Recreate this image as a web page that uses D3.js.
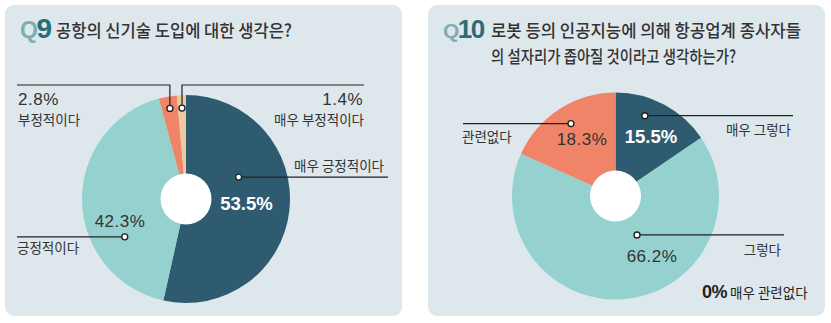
<!DOCTYPE html>
<html>
<head>
<meta charset="utf-8">
<script src="https://cdn.jsdelivr.net/npm/d3@7"></script>
<style>
  html, body { margin: 0; padding: 0; background: #ffffff; }
  svg { display: block; }
</style>
</head>
<body>
<svg id="chart" width="831" height="323"></svg>
<script>
// Survey answers, Q9
const q9Categories = ["매우 긍정적이다", "긍정적이다", "부정적이다", "매우 부정적이다"];
const q9Values = [53.5, 42.3, 2.8, 1.4];

// Survey answers, Q10
const q10Categories = ["매우 그렇다", "그렇다", "관련없다", "매우 관련없다"];
const q10Values = [15.5, 66.2, 18.3, 0];

const q9Title = "공항의 신기술 도입에 대한 생각은?";
const q10TitleLines = ["로봇 등의 인공지능에 의해 항공업계 종사자들", "의 설자리가 좁아질 것이라고 생각하는가?"];

const colorScale = d3.scaleOrdinal()
  .domain([0, 1, 2, 3])
  .range(["#2f5b70", "#95d1cf", "#ef8468", "#e9cc9e"]);

const KR = "'Noto Sans CJK KR', 'Noto Sans', sans-serif";
const NUM = "'Liberation Sans', Arial, sans-serif";
const TEXT = "#333333";

const svg = d3.select("#chart");

// panels
const panels = [
  { x: 5, y: 5, w: 397, h: 311 },
  { x: 428, y: 5, w: 397, h: 311 }
];
svg.selectAll("rect.panel").data(panels).join("rect")
  .attr("class", "panel")
  .attr("x", d => d.x).attr("y", d => d.y)
  .attr("width", d => d.w).attr("height", d => d.h)
  .attr("rx", 9).attr("fill", "#dee7eb");

// question marks "Q9", "Q10": a light "Q" followed by the dark number
function qMark(x, y, num, size) {
  const t = svg.append("text")
    .attr("x", x).attr("y", y)
    .attr("font-family", "'Liberation Sans', Arial, sans-serif")
    .attr("font-weight", 700)
    .attr("font-size", size).attr("letter-spacing", -1.5);
  t.append("tspan").attr("fill", "#7eaeb3").attr("font-size", size - 5).text("Q");
  t.append("tspan").attr("fill", "#2d6c77").text(num);
}
qMark(20, 38, "9", 28);
svg.append("text").attr("x", 56).attr("y", 37)
  .attr("font-family", KR).attr("font-size", 17.5).attr("font-weight", 500).attr("fill", TEXT)
  .attr("textLength", 236).attr("lengthAdjust", "spacingAndGlyphs")
  .text(q9Title);

qMark(443, 38, "10", 26);
const q10Widths = [310, 245];
svg.selectAll("text.q10title").data(q10TitleLines).join("text")
  .attr("class", "q10title")
  .attr("x", 491).attr("y", (d, i) => 37 + i * 26)
  .attr("font-family", KR).attr("font-size", 17.5).attr("font-weight", 500).attr("fill", TEXT)
  .attr("textLength", (d, i) => q10Widths[i]).attr("lengthAdjust", "spacingAndGlyphs")
  .text(d => d);

const pie = d3.pie().sort(null).value(d => d);

function polar(cx, cy, angle, r) {
  return [cx + r * Math.sin(angle), cy - r * Math.cos(angle)];
}

function drawPie(values, cx, cy, r, holeR) {
  const arcs = pie(values);
  const arc = d3.arc().innerRadius(0).outerRadius(r);
  const g = svg.append("g").attr("transform", `translate(${cx},${cy})`);
  g.selectAll("path").data(arcs.filter(a => a.value > 0)).join("path")
    .attr("d", arc)
    .attr("fill", d => colorScale(d.index));
  g.append("circle").attr("r", holeR).attr("fill", "#ffffff");
  return arcs;
}

function leader(points) {
  svg.append("path")
    .attr("d", d3.line()(points))
    .attr("fill", "none").attr("stroke", "#222").attr("stroke-width", 1.2);
}
function dot(p) {
  svg.append("circle").attr("cx", p[0]).attr("cy", p[1]).attr("r", 3)
    .attr("fill", "#ffffff").attr("stroke", "#222").attr("stroke-width", 1.4);
}
function label(x, y, txt, opts = {}) {
  return svg.append("text").attr("x", x).attr("y", y)
    .attr("font-family", opts.font || KR)
    .attr("font-size", opts.size || 13.5)
    .attr("font-weight", opts.weight || 400)
    .attr("letter-spacing", opts.ls || 0)
    .attr("text-anchor", opts.anchor || "start")
    .attr("fill", opts.fill || TEXT)
    .text(txt);
}
const pct = v => `${v}%`;

// ---- Q9 pie ----
const c9 = [186, 199];
const a9 = drawPie(q9Values, c9[0], c9[1], 104, 25.5);
const at = (arcs, i, f) => arcs[i].startAngle + f * (arcs[i].endAngle - arcs[i].startAngle);

// 매우 긍정적이다
let p = polar(c9[0], c9[1], at(a9, 0, 0.35), 57);
leader([p, [388, p[1]]]);
dot(p);
label(384, 171, q9Categories[0], { anchor: "end" });
label(246.5, 210, pct(q9Values[0]), { font: NUM, size: 18.5, weight: 700, fill: "#ffffff", anchor: "middle" });

// 긍정적이다
p = polar(c9[0], c9[1], at(a9, 1, 0.3), 72);
leader([[17, p[1]], p]);
dot(p);
label(120, 227, pct(q9Values[1]), { font: NUM, size: 17, anchor: "middle", ls: 0.5 });
label(17, 253, q9Categories[1]);

// 부정적이다
p = polar(c9[0], c9[1], at(a9, 2, 0.5), 92);
leader([[17, 85], [p[0], 85], p]);
dot(p);
label(18, 105, pct(q9Values[2]), { font: NUM, size: 17, ls: 0.5 });
label(18, 125, q9Categories[2]);

// 매우 부정적이다
p = polar(c9[0], c9[1], at(a9, 3, 0.5), 91);
leader([p, [p[0], 85], [364, 85]]);
dot(p);
label(363, 105, pct(q9Values[3]), { font: NUM, size: 17, anchor: "end", ls: 0.5 });
label(364, 125, q9Categories[3], { anchor: "end" });

// ---- Q10 pie ----
const c10 = [615.5, 196];
const a10 = drawPie(q10Values, c10[0], c10[1], 103.5, 25.5);

// 매우 그렇다
p = polar(c10[0], c10[1], at(a10, 0, 0.36), 85.5);
leader([p, [793, p[1]]]);
dot(p);
label(791, 135, q10Categories[0], { anchor: "end" });
label(651, 143, pct(q10Values[0]), { font: NUM, size: 18.5, weight: 700, fill: "#ffffff", anchor: "middle" });

// 그렇다
p = polar(c10[0], c10[1], at(a10, 1, 0.4), 44.5);
leader([p, [784, p[1]]]);
dot(p);
label(781, 255, q10Categories[1], { anchor: "end" });
label(652, 262, pct(q10Values[1]), { font: NUM, size: 17, anchor: "middle", ls: 0.5 });

// 관련없다
p = polar(c10[0], c10[1], at(a10, 2, 0.52), 85);
leader([[463, p[1]], p]);
dot(p);
label(462, 142, q10Categories[2]);
label(582, 145, pct(q10Values[2]), { font: NUM, size: 17, anchor: "middle", ls: 0.5 });

// 매우 관련없다 (0%)
const zero = svg.append("text").attr("x", 702).attr("y", 298).attr("fill", "#222");
zero.append("tspan").attr("font-family", NUM).attr("font-size", 18).attr("font-weight", 700)
  .attr("letter-spacing", -0.5).text(pct(q10Values[3]));
zero.append("tspan").attr("dx", 3).attr("font-family", KR).attr("font-size", 13.5).text(q10Categories[3]);
</script>
</body>
</html>
